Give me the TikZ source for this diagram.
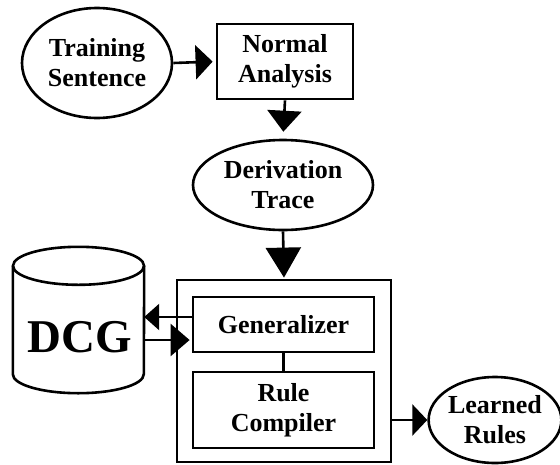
\documentclass[tikz,border=0pt]{standalone}
\usepackage{fontspec}
\setmainfont{Liberation Serif}
\usetikzlibrary{arrows.meta,shapes.geometric}
\begin{document}
\begin{tikzpicture}[x=1pt,y=-1pt,
  lbl/.style={font=\fontsize{26}{30}\selectfont\bfseries, align=center, inner sep=0pt},
  oval/.style={lbl, draw, ellipse, line width=2.6pt},
  boxnode/.style={lbl, draw, rectangle, line width=2.8pt},
  conn/.style={line width=2.6pt},
  tipH/.style={-{Triangle[length=17pt,width=34pt]}},
  tipV/.style={-{Triangle[length=21pt,width=34pt]}},
  tipBig/.style={-{Triangle[length=30pt,width=35pt]}},
  tipS/.style={-{Triangle[length=15pt,width=26pt]}},
  tipM/.style={-{Triangle[length=19pt,width=32pt]}}]
\useasboundingbox (0,0) rectangle (560,464);

\node[oval, minimum width=150pt, minimum height=110pt] (ts) at (97,63) {Training\\Sentence};
\node[boxnode, minimum width=136pt, minimum height=75pt] (na) at (285,61.5) {Normal\\Analysis};
\node[oval, minimum width=180pt, minimum height=90pt] (dt) at (283,185) {Derivation\\Trace};
\node[draw, rectangle, line width=2.8pt, minimum width=214pt, minimum height=182pt] (outer) at (284,371) {};
\node[boxnode, minimum width=181pt, minimum height=55pt] (gen) at (283.5,324.5) {Generalizer};
\node[boxnode, minimum width=181pt, minimum height=76pt] (rc) at (283.5,410) {Rule\\Compiler};
\node[oval, minimum width=124pt, minimum height=86pt] (lr) at (495,420) {Learned\\Rules};

% DCG cylinder
\node[rectangle, minimum width=131pt, minimum height=108pt, inner sep=0pt] (dcg) at (78.5,320) {};
\node[font=\fontsize{47}{50}\selectfont\bfseries, inner sep=0pt] (dcgtext) at (80,337) {DCG};
\draw[line width=2.6pt] (dcg.north) ellipse [x radius=65.5pt, y radius=19pt];
\draw[line width=2.6pt] (dcg.north west) -- (dcg.south west)
  arc[start angle=180, end angle=360, x radius=65.5pt, y radius=19pt] -- (dcg.north east);

\coordinate (yup) at (0,317);
\coordinate (ydn) at (0,340);

\draw[conn, tipH, shorten >=3pt] (ts.east) -- (na.west);
\draw[conn, tipV, shorten >=7pt] (na.south) -- (dt.north);
\draw[conn, tipBig, shorten >=1pt] (dt.south) -- (outer.north);
\draw[conn, tipS] (gen.west |- yup) -- (dcg.east |- yup);
\draw[conn, tipM, shorten >=2pt] (dcg.east |- ydn) -- (gen.west |- ydn);
\draw[conn] (gen.south) -- (rc.north);
\draw[conn, {Triangle[length=15pt,width=31pt]}-, shorten <=0pt] (lr.west) -- (lr.west -| outer.east);
\end{tikzpicture}
\end{document}
